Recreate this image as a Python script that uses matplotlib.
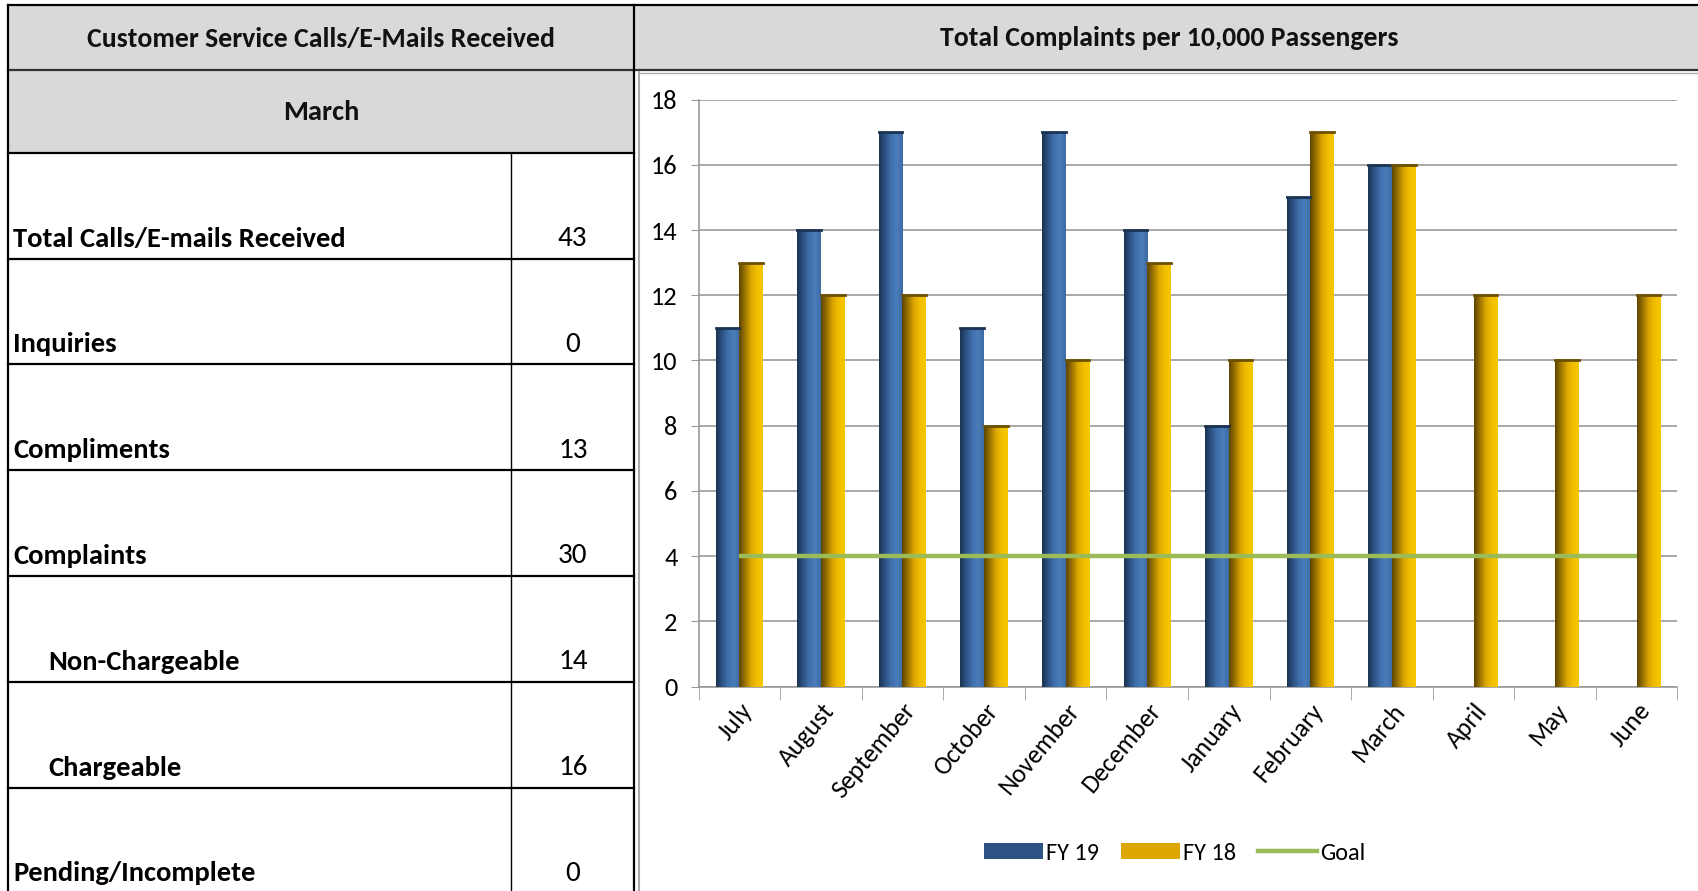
import numpy as np
import matplotlib
matplotlib.use("Agg")
import matplotlib.pyplot as plt
from matplotlib.colors import LinearSegmentedColormap
from matplotlib.patches import Rectangle, Patch
from matplotlib.lines import Line2D

plt.rcParams['font.family'] = ['Carlito', 'DejaVu Sans']

# Datos del gráfico
months = ['July', 'August', 'September', 'October', 'November', 'December',
          'January', 'February', 'March', 'April', 'May', 'June']
fy19 = [11, 14, 17, 11, 17, 14, 8, 15, 16, None, None, None]
fy18 = [13, 12, 12, 8, 10, 13, 10, 17, 16, 12, 10, 12]
goal = [4] * 12

# Datos de la tabla
table_title = 'Customer Service Calls/E-Mails Received'
table_month = 'March'
row_labels = ['Total Calls/E-mails Received', 'Inquiries', 'Compliments', 'Complaints',
              'Non-Chargeable', 'Chargeable', 'Pending/Incomplete']
row_values = [43, 0, 13, 30, 14, 16, 0]
row_indent = [False, False, False, False, True, True, False]
chart_title = 'Total Complaints per 10,000 Passengers'

W, H = 1698, 891
fig = plt.figure(figsize=(W / 100, H / 100), dpi=100)

# --- Fondo en coordenadas de píxel (tabla y cajas) ---
bg = fig.add_axes([0, 0, 1, 1])
bg.set_xlim(0, W)
bg.set_ylim(H, 0)
bg.axis('off')

grey = '#d9d9d9'
x_l, x_div, x_val = 8, 634.5, 511
y_top, y_hdr, y_month = 5, 70, 152.7
row_h = 105.8

# cabecera gris
bg.add_patch(Rectangle((x_l, y_top), W - x_l + 5, y_hdr - y_top, facecolor=grey,
                       edgecolor='none', zorder=1))
bg.add_patch(Rectangle((x_l, y_hdr), x_div - x_l, y_month - y_hdr, facecolor=grey,
                       edgecolor='none', zorder=1))
lw = 1.6
bg.plot([x_l, W], [y_top, y_top], color='black', lw=lw, zorder=2)
bg.plot([x_l, W], [y_hdr, y_hdr], color='#333333', lw=lw, zorder=2)
bg.plot([x_l, x_div], [y_month, y_month], color='black', lw=lw, zorder=2)
bg.plot([x_l, x_l], [y_top, H], color='black', lw=lw, zorder=2)
bg.plot([x_div, x_div], [y_top, H], color='black', lw=lw, zorder=2)
bg.plot([x_val, x_val], [y_month, H], color='black', lw=1.0, zorder=2)
# borde interior del gráfico
bg.plot([639, 639], [y_hdr + 2, H], color='#aaaaaa', lw=1.5, zorder=2)
bg.plot([639, W], [y_hdr + 2.5, y_hdr + 2.5], color='#aaaaaa', lw=1.0, zorder=2)

bg.text((x_l + x_div) / 2, (y_top + y_hdr) / 2 + 1, table_title, ha='center', va='center',
        fontsize=20, fontweight='bold', color='#111111')
bg.text(1169, (y_top + y_hdr) / 2 + 1, chart_title, ha='center', va='center',
        fontsize=20, fontweight='bold', color='#111111')
bg.text((x_l + x_div) / 2, (y_hdr + y_month) / 2 + 1, table_month, ha='center', va='center',
        fontsize=20.5, fontweight='bold', color='#111111')

for i, (lab, val, ind) in enumerate(zip(row_labels, row_values, row_indent)):
    y0 = y_month + i * row_h
    y1 = y0 + row_h
    if i < len(row_labels) - 1:
        bg.plot([x_l, x_div], [y1, y1], color='black', lw=lw, zorder=2)
    ty = y1 - 20
    bg.text(48 if ind else 13, ty, lab, ha='left', va='center', fontsize=20.5,
            fontweight='bold', color='black')
    bg.text((x_val + x_div) / 2, ty, str(val), ha='center', va='center', fontsize=21,
            color='black')

# --- Gráfico de barras ---
ax = fig.add_axes([698.5 / W, 1 - 686.6 / H, 979 / W, 587 / H])
ax.set_facecolor('none')

blue_cmap = LinearSegmentedColormap.from_list(
    'azul', ['#1b3352', '#2c5283', '#3f6fab', '#4a7dbb', '#3e6ca4'])
gold_cmap = LinearSegmentedColormap.from_list(
    'oro', ['#5e4500', '#9c7400', '#dca700', '#f2bf00', '#f7c800'])

x = np.arange(len(months))
bw = 0.29
grad = np.linspace(0, 1, 64).reshape(1, -1)
for i in x:
    if fy19[i] is not None:
        ax.imshow(grad, cmap=blue_cmap, aspect='auto', zorder=3,
                  extent=(i - bw, i, 0, fy19[i]))
        ax.plot([i - bw, i], [fy19[i], fy19[i]], color='#1b3352', lw=2, zorder=3.5)
    if fy18[i] is not None:
        ax.imshow(grad, cmap=gold_cmap, aspect='auto', zorder=3,
                  extent=(i, i + bw, 0, fy18[i]))
        ax.plot([i, i + bw], [fy18[i], fy18[i]], color='#6b5000', lw=2, zorder=3.5)

ax.plot(x, goal, color='#9bbb59', lw=3.2, zorder=4, solid_capstyle='butt')

ax.set_xlim(-0.5, 11.5)
ax.set_ylim(0, 18)
ax.set_yticks(range(0, 19, 2))
ax.yaxis.grid(True, color='#999999', lw=1.2, zorder=0)
ax.set_axisbelow(True)
for s in ['top', 'right']:
    ax.spines[s].set_visible(False)
ax.spines['left'].set_color('#999999')
ax.spines['bottom'].set_color('#999999')
ax.spines['left'].set_linewidth(1.2)
ax.spines['bottom'].set_linewidth(1.2)
ax.tick_params(axis='y', length=6, color='#999999', labelsize=19, pad=9)
ax.set_xticks(np.arange(-0.5, 12, 1), minor=True)
ax.set_xticks(x)
ax.set_xticklabels(months, rotation=50, ha='right', rotation_mode='anchor', fontsize=18.5)
ax.tick_params(axis='x', which='major', length=0, pad=9)
ax.tick_params(axis='x', which='minor', length=9, color='#999999')

handles = [Patch(facecolor='#2c5283', edgecolor='none'),
           Patch(facecolor='#dca700', edgecolor='none'),
           Line2D([0], [0], color='#9bbb59', lw=3.2)]
fig.legend(handles, ['FY 19', 'FY 18', 'Goal'], loc='center', ncol=3, frameon=False,
           bbox_to_anchor=(1175 / W, 1 - 853 / H), fontsize=17.5, handlelength=2.4,
           handleheight=0.6, columnspacing=0.9, handletextpad=0.15)

fig.savefig('out.png', dpi=100)
